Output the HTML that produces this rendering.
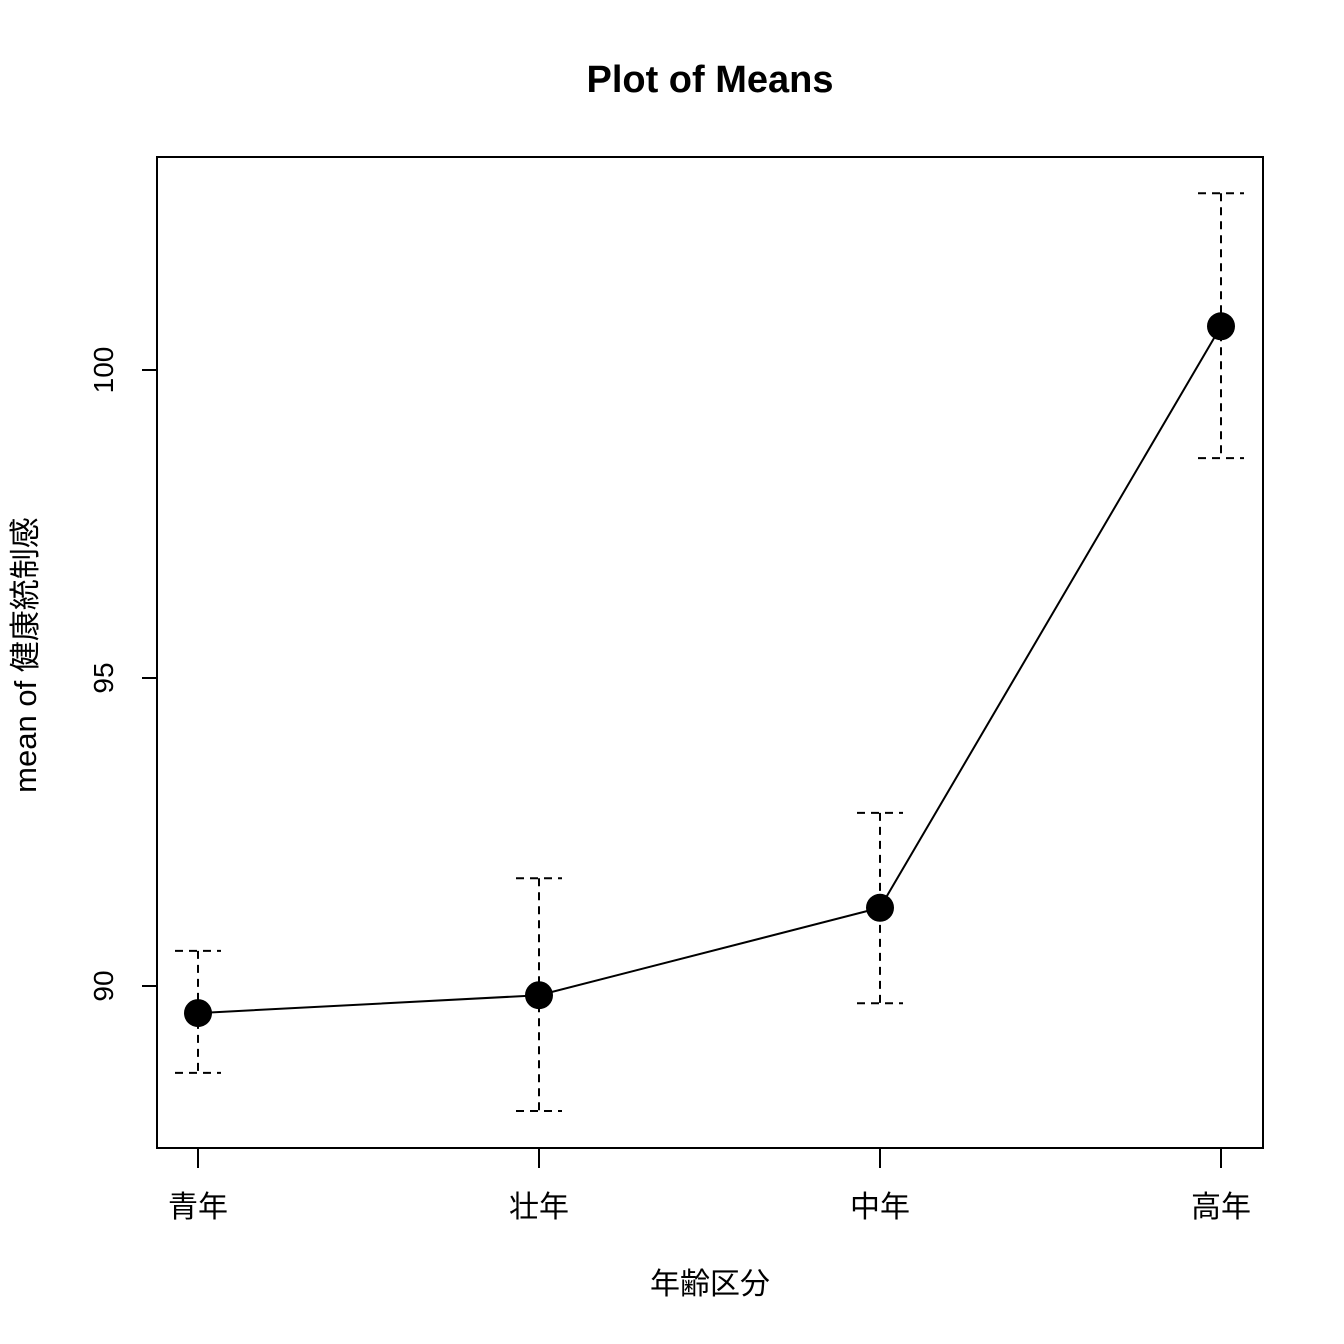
<!DOCTYPE html>
<html><head><meta charset="utf-8"><style>
html,body{margin:0;padding:0;background:#fff;}
svg{display:block;font-family:"Liberation Sans","Noto Sans CJK JP",sans-serif;}
</style></head><body>
<svg id="chart" width="1344" height="1344" viewBox="0 0 1344 1344">
<rect width="1344" height="1344" fill="#fff"/>
<text x="710" y="92" text-anchor="middle" font-size="38" font-weight="bold">Plot of Means</text>
<rect x="157" y="157" width="1106" height="991" fill="none" stroke="#000" stroke-width="2"/>
<g id="axes"></g>
<g id="marks"></g>
<text x="710" y="1294" text-anchor="middle" font-size="30">年齢区分</text>
<text transform="translate(36,655) rotate(-90)" text-anchor="middle" font-size="31">mean of 健康統制感</text>
</svg>
<script>
const categories = ["青年","壮年","中年","高年"];
const means = [89.56, 89.85, 91.27, 100.71];
const upper = [90.57, 91.75, 92.81, 102.87];
const lower = [88.59, 87.97, 89.72, 98.57];
const yTicks = [90, 95, 100];

const NS = "http://www.w3.org/2000/svg";
function yS(v){ return 986 - (v - 90) * 61.6; }
function xS(i){ return 198 + i * 341; }
function mk(tag, attrs, parent){
  const e = document.createElementNS(NS, tag);
  for (const k in attrs) e.setAttribute(k, attrs[k]);
  parent.appendChild(e);
  return e;
}
const axes = document.getElementById('axes');
const marks = document.getElementById('marks');
yTicks.forEach(v => {
  const t = mk('line', {x1:157, x2:142, y1:yS(v), y2:yS(v), stroke:'#000', 'stroke-width':2}, axes);
  
  
  const l = mk('text', {transform:`translate(113,${yS(v)}) rotate(-90)`, 'text-anchor':'middle', 'font-size':28}, axes);
  l.textContent = v;
  
  
});
categories.forEach((c, i) => {
  const t = mk('line', {x1:xS(i), x2:xS(i), y1:1148, y2:1168, stroke:'#000', 'stroke-width':2}, axes);
  
  
  const l = mk('text', {x:xS(i), y:1217, 'text-anchor':'middle', 'font-size':30}, axes);
  l.textContent = c;
  
  
});
categories.forEach((c, i) => {
  const g = mk('g', {stroke:'#000', 'stroke-width':2, 'stroke-dasharray':'8,6'}, marks);
  
  
  mk('line', {x1:xS(i), x2:xS(i), y1:yS(upper[i]), y2:yS(lower[i])}, g);
  mk('line', {x1:xS(i)-23, x2:xS(i)+23, y1:yS(upper[i]), y2:yS(upper[i])}, g);
  mk('line', {x1:xS(i)-23, x2:xS(i)+23, y1:yS(lower[i]), y2:yS(lower[i])}, g);
});
const pl = mk('polyline', {points: means.map((m,i)=>`${xS(i)},${yS(m)}`).join(' '), fill:'none', stroke:'#000', 'stroke-width':2}, marks);


means.forEach((m, i) => {
  const p = mk('circle', {cx:xS(i), cy:yS(m), r:14, fill:'#000'}, marks);
  
  
});
</script>
</body></html>
